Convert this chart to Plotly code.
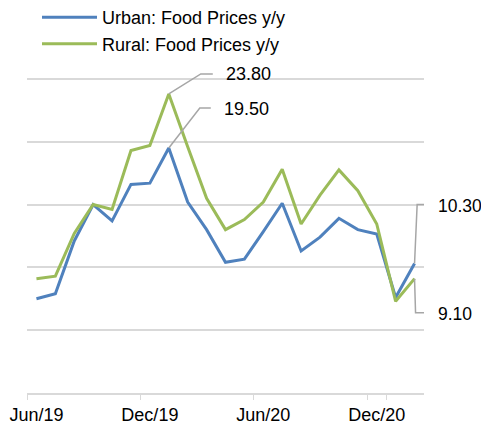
import plotly.graph_objects as go

months = ["Jun/19", "Jul/19", "Aug/19", "Sep/19", "Oct/19", "Nov/19", "Dec/19",
          "Jan/20", "Feb/20", "Mar/20", "Apr/20", "May/20", "Jun/20", "Jul/20",
          "Aug/20", "Sep/20", "Oct/20", "Nov/20", "Dec/20", "Jan/21", "Feb/21"]
urban = [7.5, 7.9, 12.1, 15.0, 13.7, 16.6, 16.7, 19.5, 15.2, 13.0, 10.4, 10.65,
         12.85, 15.1, 11.3, 12.4, 13.9, 13.0, 12.65, 7.6, 10.3]
rural = [9.1, 9.3, 12.7, 15.0, 14.6, 19.3, 19.7, 23.8, 19.6, 15.5, 13.0, 13.8,
         15.2, 17.8, 13.45, 15.75, 17.75, 16.1, 13.45, 7.3, 9.1]
tick_labels = ["Jun/19", "Dec/19", "Jun/20", "Dec/20"]

BLUE = "#4F81BD"
GREEN = "#9BBB59"
GRID = "#D9D9D9"
LEADER = "#A6A6A6"
FONT = "Liberation Sans, Arial, sans-serif"

W, H = 489, 427  # page adds an 8px body margin; margins compensate
T, B = 52, 41.7
PLOT_H = H - T - B

fig = go.Figure()
fig.add_trace(go.Scatter(x=months, y=urban, mode="lines", name="Urban: Food Prices y/y",
                         line=dict(color=BLUE, width=3)))
fig.add_trace(go.Scatter(x=months, y=rural, mode="lines", name="Rural: Food Prices y/y",
                         line=dict(color=GREEN, width=3)))

# data labels with bent leader lines (pixel offsets relative to the labelled point)
labels = [
    (months.index("Jan/20"), rural[7], "%.2f" % rural[7], "M0,0 L32,20 L44,20", 55, 20, 18),
    (months.index("Jan/20"), urban[7], "%.2f" % urban[7], "M0,0 L31,40 L42,40", 53, 39, 18),
    (len(months) - 1, urban[-1], "%.2f" % urban[-1], "M0,0 L2.6,59 L14.3,59", 21, 58, 17.5),
    (len(months) - 1, rural[-1], "%.2f" % rural[-1], "M0,0 L1,-34 L14.3,-34", 21, -35, 17.5),
]
for xi, yv, txt, path, xs, ys, fs in labels:
    fig.add_shape(type="path", xref="x", yref="y", xsizemode="pixel", ysizemode="pixel",
                  xanchor=xi, yanchor=yv, path=path,
                  line=dict(color=LEADER, width=1.5), layer="above")
    fig.add_annotation(x=xi, y=yv, xref="x", yref="y", text=txt, showarrow=False,
                       xanchor="left", yanchor="middle", xshift=xs, yshift=ys,
                       font=dict(size=fs, color="#000000", family=FONT))

fig.update_layout(
    width=W, height=H,
    margin=dict(l=19.3, r=73, t=T, b=B, autoexpand=False),
    paper_bgcolor="white", plot_bgcolor="white",
    font=dict(family=FONT, size=18, color="#000000"),
    showlegend=True,
    legend=dict(x=29 / W, xref="container", y=1 + (T + 9) / PLOT_H, yref="paper",
                xanchor="left", yanchor="top", bgcolor="rgba(0,0,0,0)",
                font=dict(size=18), tracegroupgap=0, itemwidth=55),
    xaxis=dict(type="category", range=[-0.5, len(months) - 0.5],
               tickmode="array", tickvals=tick_labels, ticktext=tick_labels,
               tickson="boundaries", ticks="outside", ticklen=5, tickcolor=GRID,
               tickangle=0, automargin=False, ticklabelstandoff=5,
               showline=True, linecolor=GRID, linewidth=1.5, showgrid=False,
               tickfont=dict(size=18, color="#000000"), fixedrange=True),
    yaxis=dict(range=[0, 26.5], dtick=5, tick0=0, showgrid=True, gridcolor=GRID,
               gridwidth=1.5, showticklabels=False, zeroline=False, showline=False,
               ticks="", fixedrange=True, automargin=False),
)

fig.write_html("out.html")
